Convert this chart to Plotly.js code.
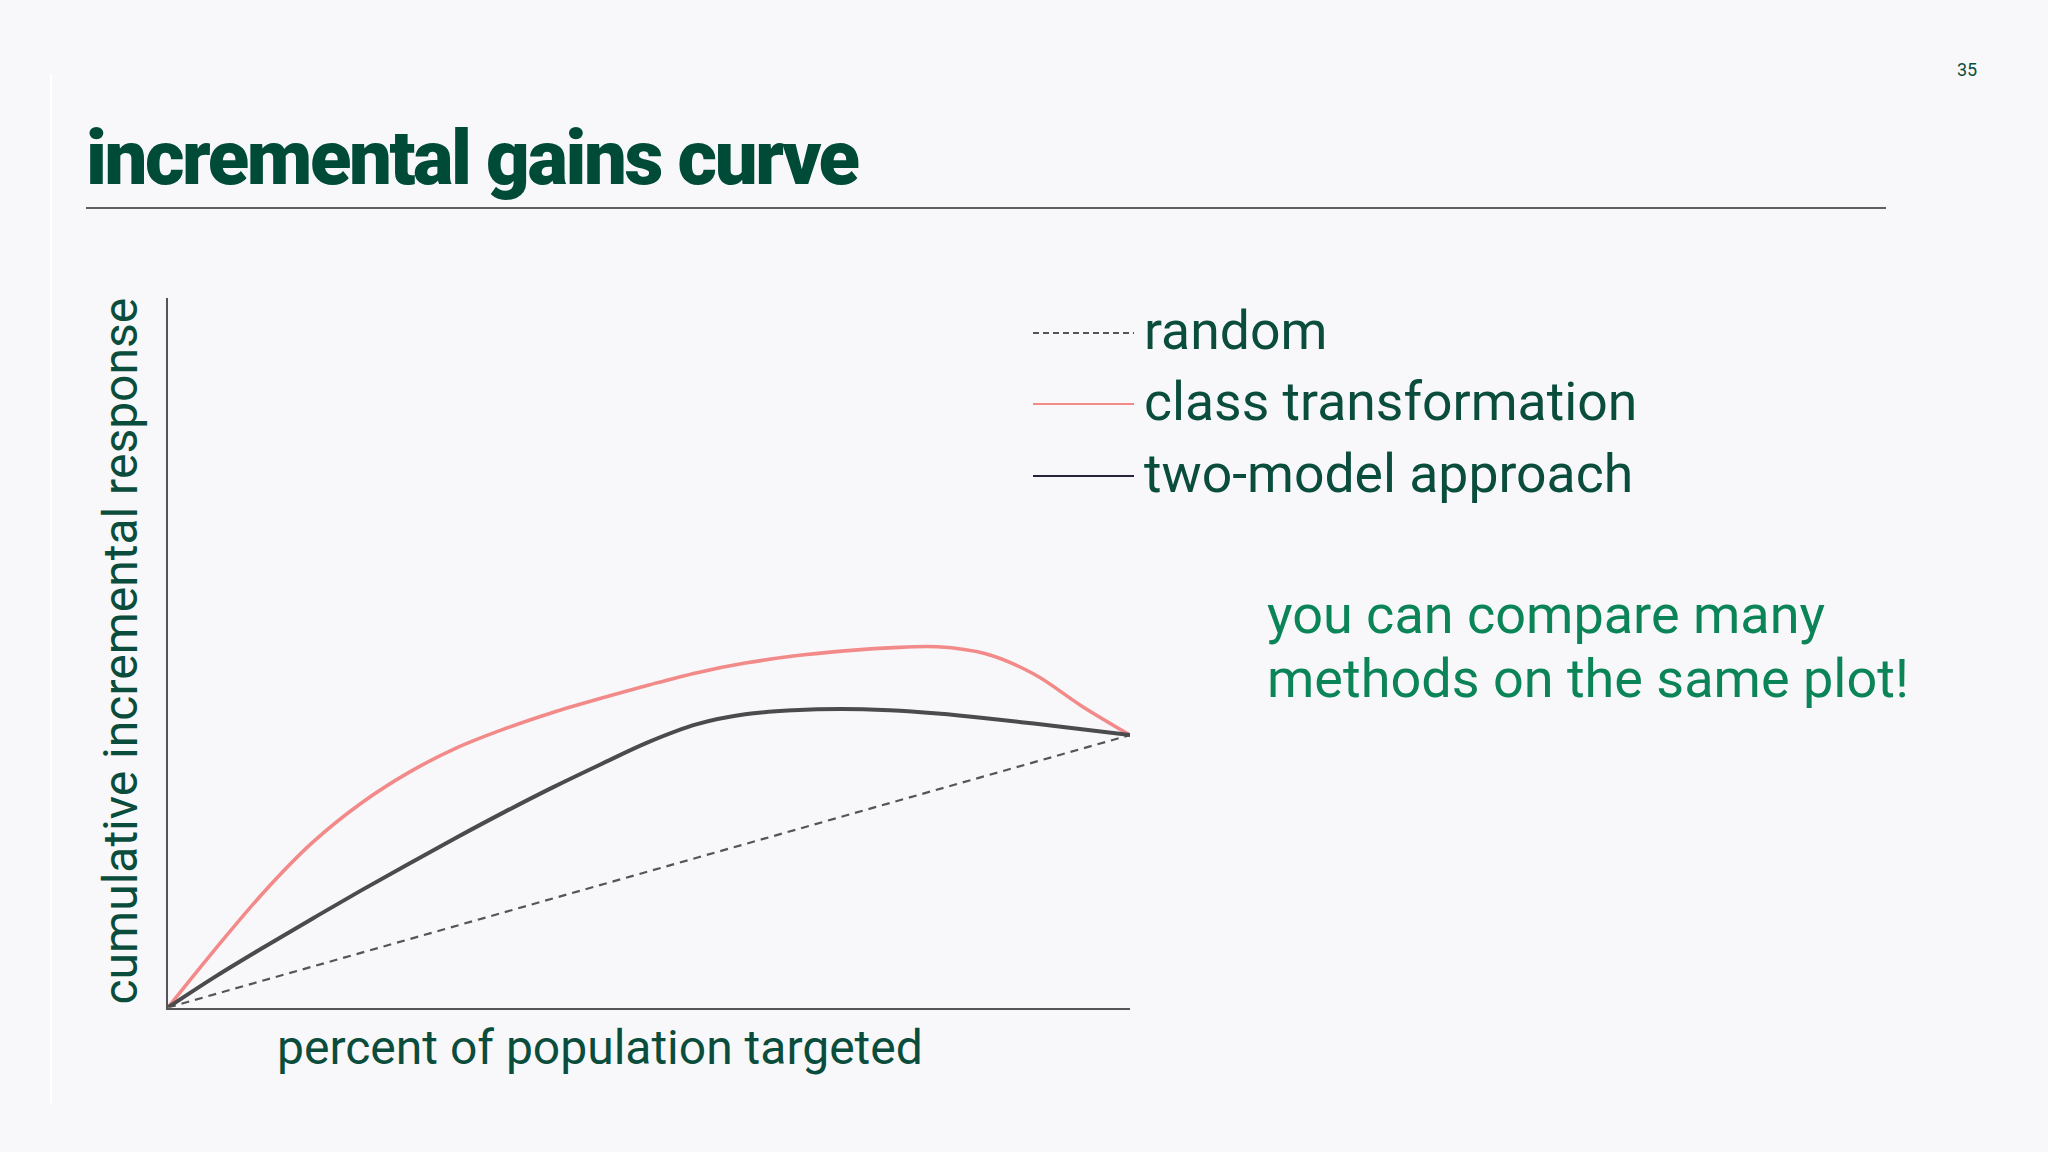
<!DOCTYPE html>
<html>
<head>
<meta charset="utf-8">
<script src="https://cdn.plot.ly/plotly-3.0.1.min.js"></script>
<style>
    html, body { margin: 0; padding: 0; background: #f8f8fa; }
    #chart { width: 2048px; height: 1152px; }
    /* the slide title is set tight */
    .gtitle { letter-spacing: -2.4px; }
</style>
</head>
<body>
<div id="chart"></div>
<script>
/*** DATA ***/
// percent of population targeted
const pct = [0, 5, 10, 15, 20, 25, 30, 35, 40, 45, 50, 55, 60, 65, 70, 75, 80, 85, 90, 95, 100];

// cumulative incremental response (1 = response of targeting everyone)
const class_transformation = [0, 0.218, 0.425, 0.605, 0.748, 0.862, 0.953, 1.023, 1.083, 1.135, 1.184,
    1.229, 1.264, 1.290, 1.308, 1.320, 1.324, 1.298, 1.224, 1.106, 1.0];
const two_model = [0, 0.115, 0.222, 0.326, 0.428, 0.527, 0.624, 0.718, 0.808, 0.893, 0.975,
    1.040, 1.076, 1.091, 1.096, 1.091, 1.079, 1.062, 1.042, 1.021, 1.0];
const random_x = [0, 100];
const random_y = [0, 1];

const series_names = ["random", "class transformation", "two-model approach"];

/*** STYLE ***/
const W = 2048, H = 1152;
const DARK_GREEN = '#0b4d3c';
const BRIGHT_GREEN = '#0b8457';
const RED = '#f28a8a';
const GREY = '#4b4b4d';

// pixel -> paper helpers
function px(x) { return x / W; }
function py(y) { return 1 - y / H; }

/*** TRACES ***/
const trace_random = {
    x: random_x, y: random_y, type: 'scatter', mode: 'lines', name: series_names[0],
    line: { color: '#555555', width: 2.2, dash: '8px,6px' }
};
const trace_class = {
    x: pct, y: class_transformation, type: 'scatter', mode: 'lines', name: series_names[1],
    line: { color: RED, width: 3.6, shape: 'spline', smoothing: 1 }
};
const trace_two = {
    x: pct, y: two_model, type: 'scatter', mode: 'lines', name: series_names[2],
    line: { color: GREY, width: 4, shape: 'spline', smoothing: 1 }
};

/*** LEGEND (drawn by hand, long line samples) ***/
const legend_colors = ['#555555', RED, '#25253a'];
const legend_dash = ['6px,4px', 'solid', 'solid'];
const legend_rows = [333, 404, 476];

const shapes = [];
const annotations = [];

legend_rows.forEach((row, i) => {
    shapes.push({
        type: 'line', xref: 'paper', yref: 'paper',
        x0: px(1033), x1: px(1134), y0: py(row), y1: py(row),
        line: { color: legend_colors[i], width: 2, dash: legend_dash[i] }
    });
    annotations.push({
        xref: 'paper', yref: 'paper', x: px(1142), y: py(row - 2),
        xanchor: 'left', yanchor: 'middle', showarrow: false,
        text: series_names[i],
        font: { family: 'Roboto', size: 53.5, color: DARK_GREEN }
    });
});

// title underline
shapes.push({
    type: 'line', xref: 'paper', yref: 'paper',
    x0: px(86), x1: px(1886), y0: py(208), y1: py(208),
    line: { color: '#5f5f5f', width: 2 }
});
// faint slide edge on the left
shapes.push({
    type: 'line', xref: 'paper', yref: 'paper',
    x0: px(51), x1: px(51), y0: py(74), y1: py(1104),
    line: { color: '#ffffff', width: 2 }
});

// axis titles
annotations.push({
    xref: 'paper', yref: 'paper', x: px(600), y: py(1047),
    xanchor: 'center', yanchor: 'middle', showarrow: false,
    text: 'percent of population targeted',
    font: { family: 'Roboto', size: 48, color: DARK_GREEN }
});
annotations.push({
    xref: 'paper', yref: 'paper', x: px(119.5), y: py(651),
    xanchor: 'center', yanchor: 'middle', showarrow: false, textangle: -90,
    text: 'cumulative incremental response',
    font: { family: 'Roboto', size: 48, color: DARK_GREEN }
});

// side note, one annotation per line to keep the tight leading
const note_lines = ['you can compare many', 'methods on the same plot!'];
const note_rows = [632, 696];
note_lines.forEach((txt, i) => {
    annotations.push({
        xref: 'paper', yref: 'paper', x: px(1265), y: py(note_rows[i] - 18),
        xanchor: 'left', yanchor: 'middle', showarrow: false,
        text: txt,
        font: { family: 'Roboto', size: 54, color: BRIGHT_GREEN }
    });
});

// slide number
annotations.push({
    xref: 'paper', yref: 'paper', x: px(1967), y: py(69),
    xanchor: 'center', yanchor: 'middle', showarrow: false,
    text: '35',
    font: { family: 'Roboto', size: 18, color: DARK_GREEN }
});

/*** LAYOUT ***/
const layout = {
    width: W, height: H,
    margin: { l: 0, r: 0, t: 0, b: 0 },
    paper_bgcolor: '#f8f8fa',
    plot_bgcolor: '#f8f8fa',
    showlegend: false,
    title: {
        text: 'incremental gains curve',
        x: px(86), xanchor: 'left', xref: 'paper',
        y: py(157), yanchor: 'middle', yref: 'container',
        font: { family: 'Roboto', size: 76, weight: 900, color: '#004a38' }
    },
    xaxis: {
        domain: [px(168), px(1130)],
        range: [0, 100],
        showline: true, linecolor: '#555555', linewidth: 2,
        showgrid: false, zeroline: false, showticklabels: false, ticks: ''
    },
    yaxis: {
        domain: [py(1007.5), py(298)],
        range: [0, 2.604],
        showline: true, linecolor: '#555555', linewidth: 2,
        showgrid: false, zeroline: false, showticklabels: false, ticks: ''
    },
    shapes: shapes,
    annotations: annotations
};

Plotly.newPlot('chart', [trace_random, trace_class, trace_two], layout, { staticPlot: true });
</script>
</body>
</html>
